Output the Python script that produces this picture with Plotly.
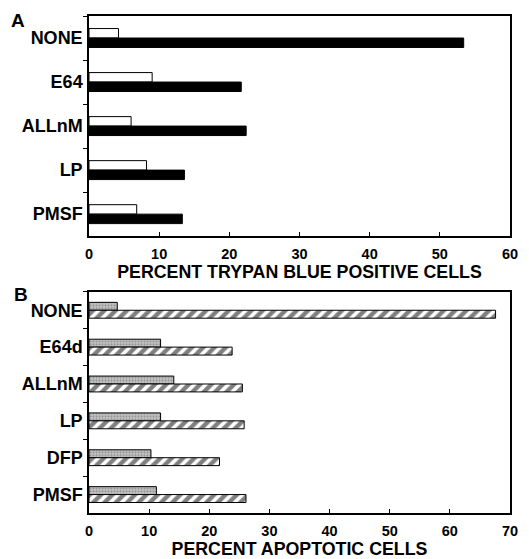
import plotly.graph_objects as go

# Panel A data
cats_a = ["NONE", "E64", "ALLnM", "LP", "PMSF"]
a_open = [4.2, 9.0, 6.0, 8.2, 6.8]
a_solid = [53.4, 21.7, 22.4, 13.6, 13.3]

# Panel B data
cats_b = ["NONE", "E64d", "ALLnM", "LP", "DFP", "PMSF"]
b_stip = [4.7, 11.9, 14.1, 11.9, 10.3, 11.2]
b_hatch = [67.6, 23.8, 25.5, 25.8, 21.7, 26.1]

xticks_a = [0, 10, 20, 30, 40, 50, 60]
xticks_b = [0, 10, 20, 30, 40, 50, 60, 70]

FONT = "Liberation Sans, Arial, sans-serif"

fig = go.Figure()
fig.add_trace(go.Bar(y=cats_a, x=a_open, orientation="h", xaxis="x", yaxis="y",
                     marker=dict(color="white", line=dict(color="black", width=1))))
fig.add_trace(go.Bar(y=cats_a, x=a_solid, orientation="h", xaxis="x", yaxis="y",
                     marker=dict(color="black", line=dict(color="black", width=1))))
fig.add_trace(go.Bar(y=cats_b, x=b_stip, orientation="h", xaxis="x2", yaxis="y2",
                     marker=dict(color="#b8b8b8", line=dict(color="black", width=1),
                                 pattern=dict(shape=".", fgcolor="#5a5a5a", bgcolor="#c4c4c4",
                                              size=3, solidity=0.4))))
fig.add_trace(go.Bar(y=cats_b, x=b_hatch, orientation="h", xaxis="x2", yaxis="y2",
                     marker=dict(color="white", line=dict(color="black", width=1),
                                 pattern=dict(shape="/", fgcolor="black", bgcolor="white",
                                              size=8, solidity=0.55))))

axis_common = dict(showline=True, linecolor="black", linewidth=1.5, mirror=True,
                   showgrid=False, zeroline=False, automargin=False)
tickfont = dict(family=FONT, size=14.5, color="black", weight="bold")
catfont = dict(family=FONT, size=18, color="black", weight="bold")
titlefont = dict(family=FONT, size=17.8, color="black", weight="bold")

fig.update_layout(
    width=529, height=559,
    margin=dict(l=81, r=27, t=8, b=54),
    paper_bgcolor="white", plot_bgcolor="white",
    showlegend=False, barmode="group", bargap=0.57, bargroupgap=0,
    xaxis=dict(domain=[0, 1], anchor="y", range=[0, 60], tickvals=xticks_a,
               ticks="inside", ticklen=4, tickcolor="black", tickfont=tickfont,
               ticklabelstandoff=4,
               title=dict(text="PERCENT TRYPAN BLUE POSITIVE CELLS", font=titlefont, standoff=4),
               **axis_common),
    yaxis=dict(domain=[0.557, 1], anchor="x", type="category", categoryorder="array",
               categoryarray=cats_a, autorange="reversed", tickson="boundaries",
               ticks="outside", ticklen=4, tickcolor="black", tickfont=catfont,
               ticklabelstandoff=1,
               **axis_common),
    xaxis2=dict(domain=[0, 1], anchor="y2", range=[0, 70], tickvals=xticks_b,
                ticks="inside", ticklen=4, tickcolor="black", tickfont=tickfont,
                ticklabelstandoff=4,
                title=dict(text="PERCENT APOPTOTIC CELLS", font=titlefont, standoff=4),
                **axis_common),
    yaxis2=dict(domain=[0, 0.445], anchor="x2", type="category", categoryorder="array",
                categoryarray=cats_b, autorange="reversed", tickson="boundaries",
                ticks="outside", ticklen=4, tickcolor="black", tickfont=catfont,
                ticklabelstandoff=1,
                **axis_common),
    annotations=[
        dict(text="A", x=-0.19, y=0.99, xref="paper", yref="paper", showarrow=False,
             xanchor="left", yanchor="middle", font=dict(family=FONT, size=19, color="black", weight="bold")),
        dict(text="B", x=-0.184, y=0.44, xref="paper", yref="paper", showarrow=False,
             xanchor="left", yanchor="middle", font=dict(family=FONT, size=19, color="black", weight="bold")),
    ],
)

fig.write_html("out.html")
